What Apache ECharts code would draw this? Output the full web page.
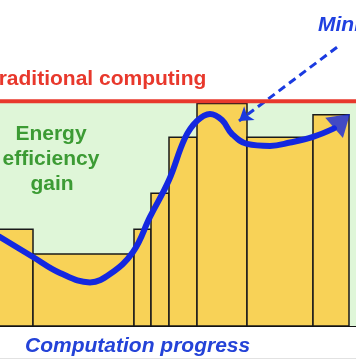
<!DOCTYPE html>
<html>
<head>
<meta charset="utf-8">
<script src="https://cdn.jsdelivr.net/npm/echarts@6/dist/echarts.min.js"></script>
<style>
html,body{margin:0;padding:0;background:#fff;}
#chart{width:356px;height:361px;}
</style>
</head>
<body>
<div id="chart"></div>
<script>
// ---- data ----
const barEdges = [-10, 33, 134, 151, 169, 197, 247, 313, 349];
const barHeights = [43, 32, 43, 59, 84, 99, 84, 94];
const curveX = [0, 33, 60, 90, 110, 133, 150, 169, 185, 197, 210, 222, 232, 247, 270, 290, 313, 334];
const curveY = [39.6, 30.7, 23.6, 19.4, 23.1, 32.9, 48.5, 64.9, 83.6, 91.2, 94.3, 91.6, 85.4, 81.0, 80.1, 81.6, 84.1, 87.9];
const arrowHead = [342, 91.2];
const traditionalLevel = 100;
const pointerStart = [337, 124];
const pointerEnd = [239, 91.2];
const xRange = [0, 356];
const yRange = [0, 145];

const FONT = '"Liberation Sans", Arial, sans-serif';

const bars = barHeights.map((h, i) => [barEdges[i], barEdges[i + 1], h]);
const curve = curveX.map((x, i) => [x, curveY[i]]);

const chart = echarts.init(document.getElementById('chart'), null, {renderer: 'canvas'});
chart.setOption({
  animation: false,
  backgroundColor: '#ffffff',
  grid: {left: 0, right: 0, top: 0, bottom: 35},
  xAxis: {
    type: 'value', min: xRange[0], max: xRange[1],
    axisLine: {show: true, onZero: true, lineStyle: {color: '#111', width: 2}},
    axisTick: {show: false}, axisLabel: {show: false}, splitLine: {show: false}
  },
  yAxis: {
    type: 'value', min: yRange[0], max: yRange[1], show: false,
    splitLine: {show: false}
  },
  series: [
    {
      type: 'line', name: 'gain area', data: [], z: 0, silent: true,
      markArea: {
        silent: true,
        itemStyle: {color: '#dff6d8'},
        data: [[{coord: [xRange[0], 0]}, {coord: [xRange[1], traditionalLevel]}]]
      }
    },
    {
      type: 'custom', name: 'steps', z: 1, clip: true,
      data: bars,
      renderItem: function (params, api) {
        const p0 = api.coord([api.value(0), api.value(2)]);
        const p1 = api.coord([api.value(1), 0]);
        return {
          type: 'rect',
          shape: {x: p0[0], y: p0[1], width: p1[0] - p0[0], height: p1[1] - p0[1]},
          style: {fill: '#f8d257', stroke: '#1a1a1a', lineWidth: 1.5}
        };
      }
    },
    {
      type: 'line', name: 'traditional', z: 5,
      data: [[xRange[0], traditionalLevel], [xRange[1], traditionalLevel]],
      symbol: 'none', lineStyle: {color: '#e8382c', width: 4}
    },
    {
      type: 'line', name: 'curve', z: 3, smooth: 0.4,
      data: curve, symbol: 'none',
      lineStyle: {color: '#1428e0', width: 6, cap: 'round'},
      markLine: {
        silent: true,
        symbol: ['none', 'arrow'],
        symbolSize: 13,
        label: {show: false},
        lineStyle: {color: '#1a3ae0', width: 3, type: [8, 5]},
        data: [[{coord: pointerStart}, {coord: pointerEnd}]]
      }
    },
    {
      type: 'scatter', name: 'head', z: 4,
      data: [arrowHead], symbol: 'triangle', symbolSize: [27, 21], symbolRotate: -49,
      itemStyle: {color: '#1428e0'}
    }
  ],
  graphic: [
    {type: 'text', z: 10, position: [-13, 69], style: {text: 'Traditional computing', font: 'bold 21px ' + FONT, fill: '#e8382c'}},
    {type: 'text', z: 10, position: [318, 15], style: {text: 'Minimal', font: 'italic bold 21px ' + FONT, fill: '#2040e0'}},
    {type: 'text', z: 10, position: [51, 124], style: {text: 'Energy', font: 'bold 21px ' + FONT, fill: '#3c9b34', textAlign: 'center'}},
    {type: 'text', z: 10, position: [51, 149], style: {text: 'efficiency', font: 'bold 21px ' + FONT, fill: '#3c9b34', textAlign: 'center'}},
    {type: 'text', z: 10, position: [52, 174], style: {text: 'gain', font: 'bold 21px ' + FONT, fill: '#3c9b34', textAlign: 'center'}},
    {type: 'text', z: 10, position: [25, 336], style: {text: 'Computation progress', font: 'italic bold 21px ' + FONT, fill: '#2443d8'}},
    {type: 'rect', z: 10, shape: {x: 0, y: 358, width: 356, height: 1}, style: {fill: '#e2e2e2'}}
  ]
});
</script>
</body>
</html>
